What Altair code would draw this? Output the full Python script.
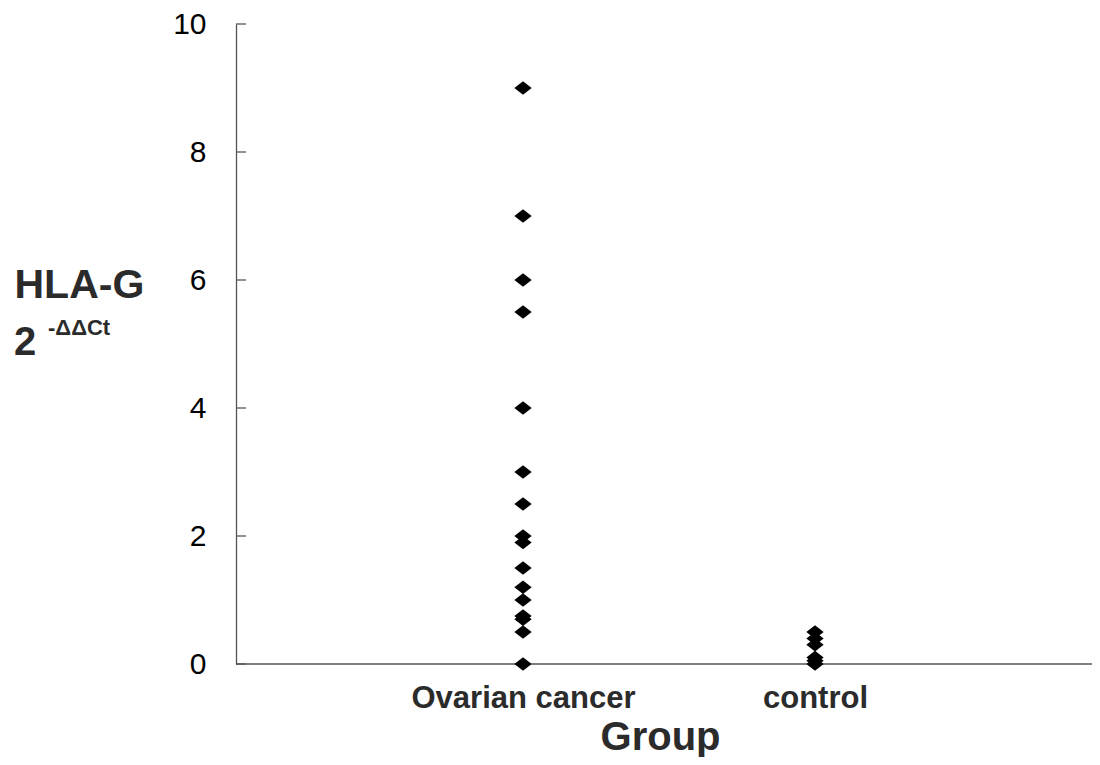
import altair as alt
import pandas as pd

groups = ["Ovarian cancer", "control"]
ovarian_values = [9, 7, 6, 5.5, 4, 3, 2.5, 2, 1.9, 1.5, 1.2, 1.0, 0.75, 0.7, 0.5, 0]
control_values = [0.5, 0.4, 0.3, 0.1, 0.05, 0]
y_ticks = [0, 2, 4, 6, 8, 10]

df = pd.DataFrame({
    "group": [groups[0]] * len(ovarian_values) + [groups[1]] * len(control_values),
    "value": ovarian_values + control_values,
})
ticks_df = pd.DataFrame({"t": y_ticks})

FONT = "Liberation Sans"
AXIS_COLOR = "#555555"
diamond = "M-1,0L0,-0.78L1,0L0,0.78Z"
W, H = 856, 640

y_enc = alt.Y(
    "value:Q",
    scale=alt.Scale(domain=[0, 10], nice=False),
    axis=alt.Axis(
        values=y_ticks, format="d", ticks=False, grid=False, labelPadding=30,
        labelFont=FONT, labelFontSize=30, labelColor="black",
        domainColor=AXIS_COLOR, domainWidth=1.3,
        title="HLA-G", titleAngle=0, titleAlign="left", titleBaseline="alphabetic",
        titleX=-222, titleY=273, titleFont=FONT, titleFontSize=41,
        titleFontWeight="bold", titleColor="#2b2b2b",
    ),
)

x_enc = alt.X(
    "group:N",
    scale=alt.Scale(type="point", domain=groups, padding=0, range=[287, 579]),
    axis=alt.Axis(
        ticks=False, grid=False, domain=False, labelAngle=0, labelPadding=19, labelLimit=0,
        labelFont=FONT, labelFontSize=31, labelFontWeight="bold", labelColor="#2b2b2b",
        title="Group", titleFont=FONT, titleFontSize=40, titleFontWeight="bold",
        titleColor="#2b2b2b", titlePadding=4, titleX=W / 2 - 4,
    ),
)

points = alt.Chart(df).mark_point(
    shape=diamond, filled=True, size=300, color="black", opacity=1, strokeWidth=0
).encode(x=x_enc, y=y_enc)

tick_rules = alt.Chart(ticks_df).mark_rule(color=AXIS_COLOR, strokeWidth=1.3).encode(
    y=alt.Y("t:Q"), x=alt.value(0), x2=alt.value(10)
)

x_line = alt.Chart(pd.DataFrame({"a": [0]})).mark_rule(
    color=AXIS_COLOR, strokeWidth=1.3
).encode(x=alt.value(0), x2=alt.value(W), y=alt.value(H))

label_df = pd.DataFrame({"a": [0]})
two = alt.Chart(label_df).mark_text(
    text="2", font=FONT, fontSize=40, fontWeight="bold", color="#2b2b2b",
    align="left", baseline="alphabetic"
).encode(x=alt.value(-222), y=alt.value(331))
sup = alt.Chart(label_df).mark_text(
    text="-ΔΔCt", font=FONT, fontSize=22, fontWeight="bold", color="#2b2b2b",
    align="left", baseline="alphabetic"
).encode(x=alt.value(-188), y=alt.value(311))

chart = alt.layer(x_line, tick_rules, points, two, sup).properties(
    width=W, height=H,
    padding={"left": 228, "top": 16, "right": 0, "bottom": 93},
    autosize=alt.AutoSizeParams(type="none"),
).configure(background="white").configure_view(stroke=None)

chart.save("out.html", embed_options={"renderer": "svg", "actions": False})
